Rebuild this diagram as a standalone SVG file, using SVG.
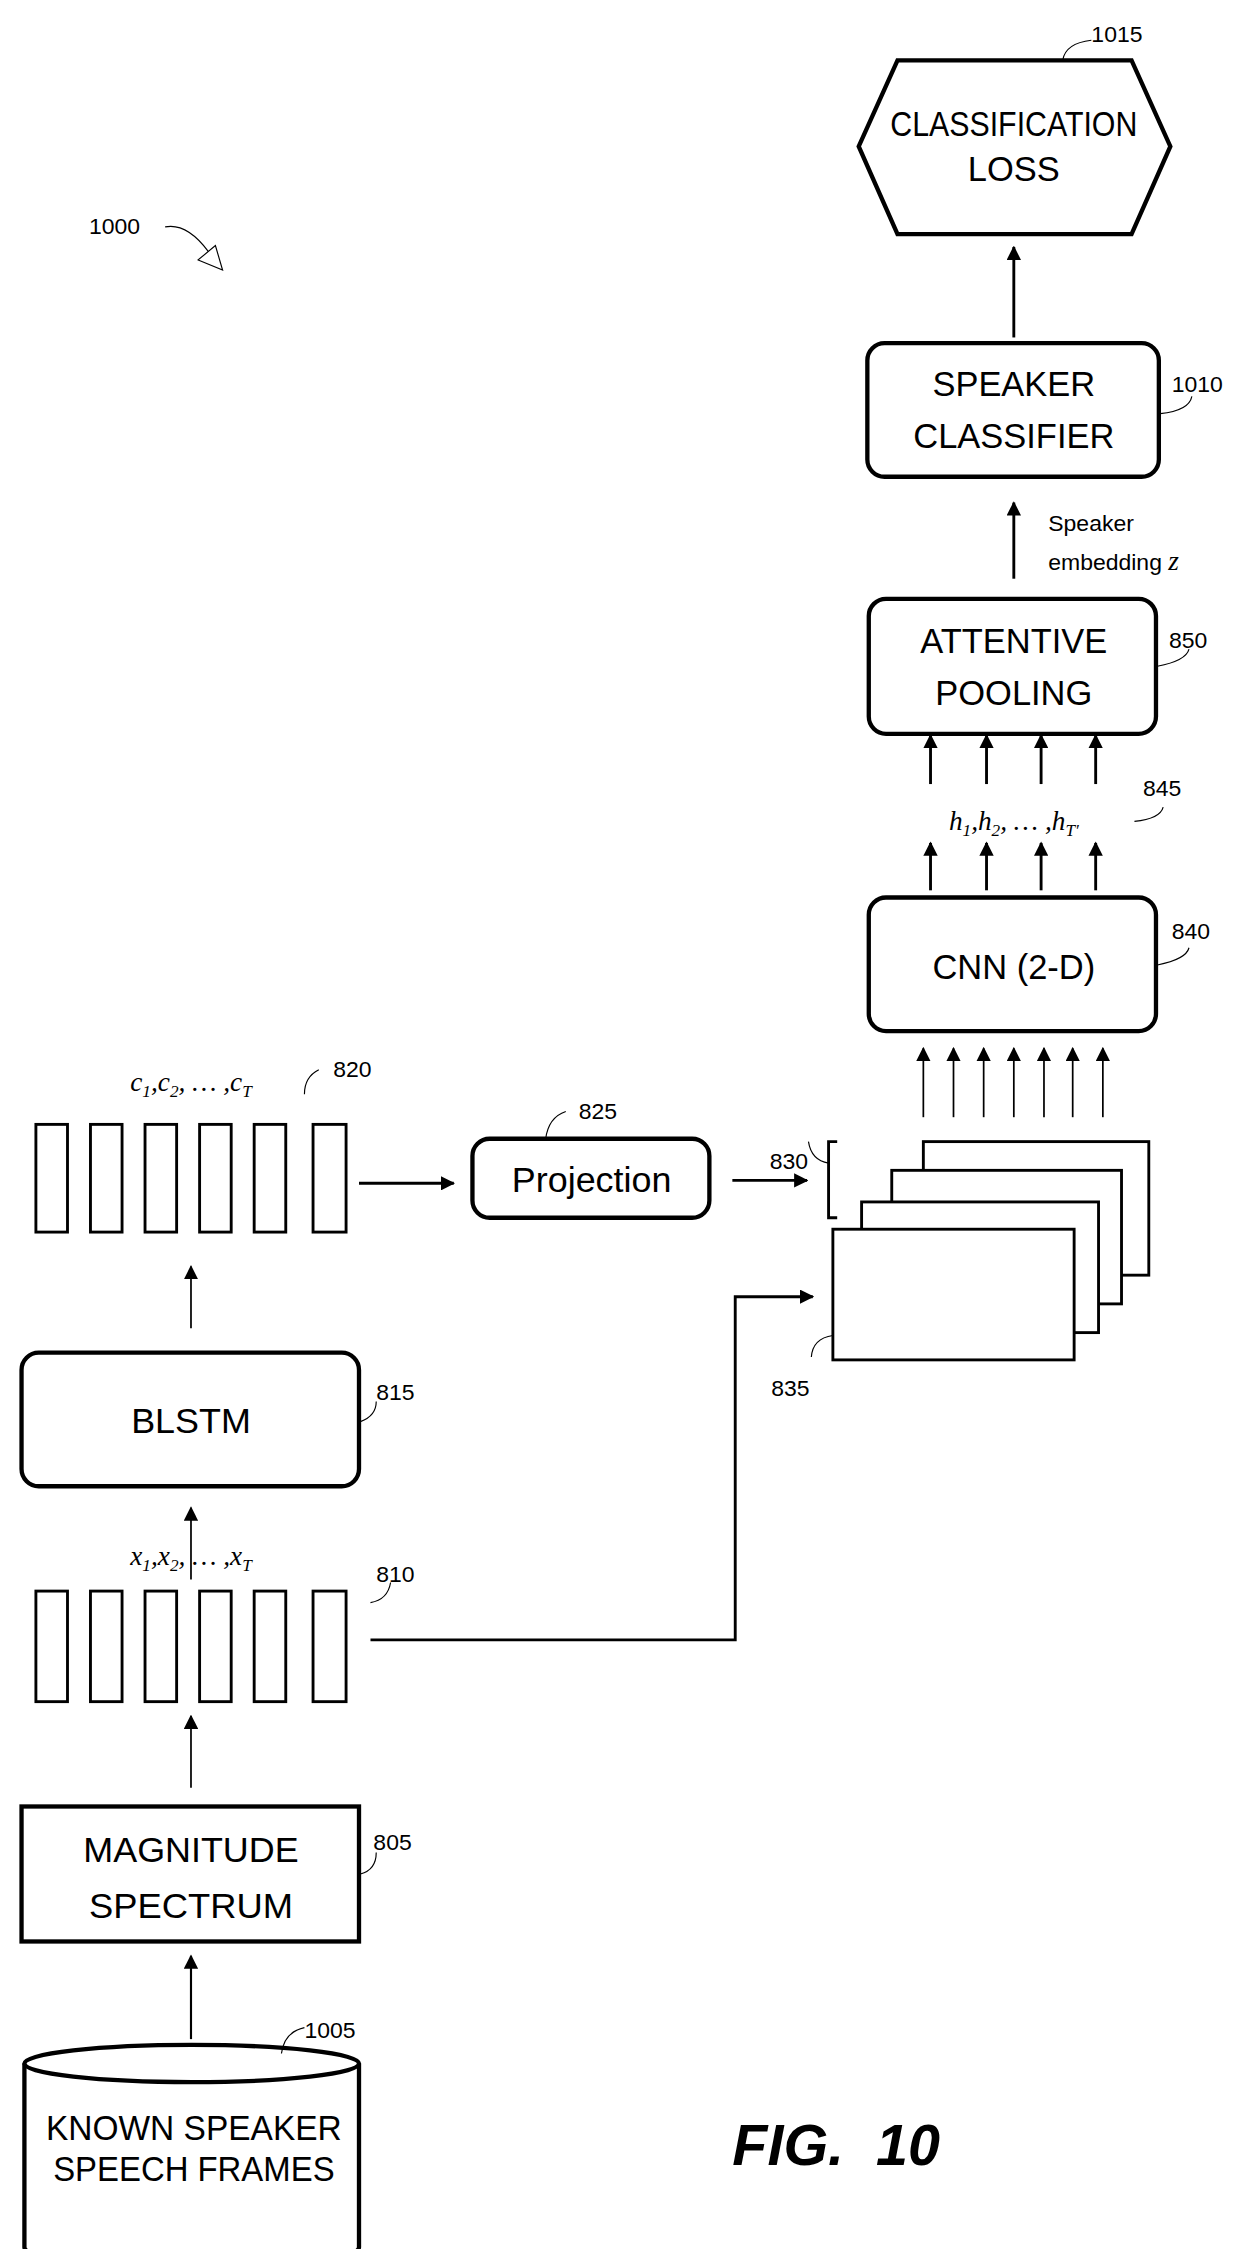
<svg xmlns="http://www.w3.org/2000/svg" width="1249" height="2249" viewBox="0 0 1249 2249">
<defs>
<marker id="ah" viewBox="0 0 10 10" refX="9" refY="5" markerWidth="10" markerHeight="10" markerUnits="userSpaceOnUse" orient="auto"><path d="M0,0 L10,5 L0,10 z" fill="#000"/></marker>
<style>
.box{fill:#fff;stroke:#000;stroke-width:3}
.bar{fill:#fff;stroke:#000;stroke-width:2}
.ln{fill:none;stroke:#000;stroke-width:2}
.thin{fill:none;stroke:#000;stroke-width:0.8}
.t{font-family:"Liberation Sans",Arial,sans-serif;font-size:24px;text-anchor:middle}
.n{font-family:"Liberation Sans",Arial,sans-serif;font-size:25px;text-anchor:middle}
.lab{font-family:"Liberation Sans",Arial,sans-serif;font-size:16px}
.m{font-family:"Liberation Serif","Times New Roman",serif;font-style:italic;font-size:19px;text-anchor:middle}
</style>
</defs>
<rect width="1249" height="2249" fill="#fff"/>
<g transform="scale(1.436)">
<g id="connectors">
<line class="ln" x1="706" y1="235" x2="706" y2="172" marker-end="url(#ah)"/>
<line class="ln" x1="706" y1="403" x2="706" y2="350" marker-end="url(#ah)"/>
<line class="ln" x1="648" y1="546" x2="648" y2="512" marker-end="url(#ah)"/>
<line class="ln" x1="687" y1="546" x2="687" y2="512" marker-end="url(#ah)"/>
<line class="ln" x1="725" y1="546" x2="725" y2="512" marker-end="url(#ah)"/>
<line class="ln" x1="763" y1="546" x2="763" y2="512" marker-end="url(#ah)"/>
<line class="ln" x1="648" y1="620" x2="648" y2="587" marker-end="url(#ah)"/>
<line class="ln" x1="687" y1="620" x2="687" y2="587" marker-end="url(#ah)"/>
<line class="ln" x1="725" y1="620" x2="725" y2="587" marker-end="url(#ah)"/>
<line class="ln" x1="763" y1="620" x2="763" y2="587" marker-end="url(#ah)"/>
<line class="ln" style="stroke-width:1.2" x1="643" y1="778" x2="643" y2="730" marker-end="url(#ah)"/>
<line class="ln" style="stroke-width:1.2" x1="664" y1="778" x2="664" y2="730" marker-end="url(#ah)"/>
<line class="ln" style="stroke-width:1.2" x1="685" y1="778" x2="685" y2="730" marker-end="url(#ah)"/>
<line class="ln" style="stroke-width:1.2" x1="706" y1="778" x2="706" y2="730" marker-end="url(#ah)"/>
<line class="ln" style="stroke-width:1.2" x1="727" y1="778" x2="727" y2="730" marker-end="url(#ah)"/>
<line class="ln" style="stroke-width:1.2" x1="747" y1="778" x2="747" y2="730" marker-end="url(#ah)"/>
<line class="ln" style="stroke-width:1.2" x1="768" y1="778" x2="768" y2="730" marker-end="url(#ah)"/>
<line class="ln" x1="510" y1="822" x2="562" y2="822" marker-end="url(#ah)"/>
<line class="ln" x1="250" y1="824" x2="316" y2="824" marker-end="url(#ah)"/>
<line class="ln" style="stroke-width:1.2" x1="133" y1="925" x2="133" y2="882" marker-end="url(#ah)"/>
<line class="ln" style="stroke-width:1.2" x1="133" y1="1100" x2="133" y2="1050" marker-end="url(#ah)"/>
<polyline class="ln" points="258,1142 512,1142 512,903 566,903" marker-end="url(#ah)"/>
<line class="ln" style="stroke-width:1.2" x1="133" y1="1245" x2="133" y2="1195" marker-end="url(#ah)"/>
<line class="ln" style="stroke-width:1.5" x1="133" y1="1420" x2="133" y2="1362" marker-end="url(#ah)"/>
</g>
<g id="n1015">
<polygon class="box" points="598,102 625,42 788,42 815,102 788,163 625,163"/>
<text class="t" x="706" y="95" font-size="21" textLength="172" lengthAdjust="spacingAndGlyphs">CLASSIFICATION</text>
<text class="t" x="706" y="126" font-size="21">LOSS</text>
<path class="thin" d="M740,42 Q742,30 760,28"/><text class="lab" x="760" y="29">1015</text>
</g>
<g id="n1010">
<rect class="box" x="604" y="239" width="203" height="93" rx="12"/>
<text class="t" x="706" y="276">SPEAKER</text>
<text class="t" x="706" y="312">CLASSIFIER</text>
<path class="thin" d="M808,288 Q828,286 830,276"/><text class="lab" x="816" y="273">1010</text>
</g>
<g id="embedding">
<text class="lab" x="730" y="370">Speaker</text>
<text class="lab" x="730" y="397">embedding <tspan font-family="Liberation Serif,serif" font-style="italic" font-size="19">z</tspan></text>
</g>
<g id="n850">
<rect class="box" x="605" y="417" width="200" height="94" rx="12"/>
<text class="t" x="706" y="455">ATTENTIVE</text>
<text class="t" x="706" y="491">POOLING</text>
<path class="thin" d="M806,464 Q826,460 828,452"/><text class="lab" x="814" y="451">850</text>
</g>
<g id="n845">
<text class="m" x="706" y="578">h<tspan font-size="12" dy="4">1</tspan><tspan dy="-4">,h</tspan><tspan font-size="12" dy="4">2</tspan><tspan dy="-4">, … ,h</tspan><tspan font-size="12" dy="4">T′</tspan></text>
<path class="thin" d="M790,572 Q808,570 810,562"/><text class="lab" x="796" y="554">845</text>
</g>
<g id="n840">
<rect class="box" x="605" y="625" width="200" height="93" rx="12"/>
<text class="t" x="706" y="682">CNN (2-D)</text>
<path class="thin" d="M806,672 Q826,668 828,660"/><text class="lab" x="816" y="654">840</text>
</g>
<g id="n830">
<rect class="bar" x="643" y="795" width="157" height="93"/>
<rect class="bar" x="621" y="815" width="160" height="93"/>
<rect class="bar" x="600" y="837" width="165" height="91"/>
<rect class="bar" x="580" y="856" width="168" height="91"/>
<polyline class="ln" points="583,795 577,795 577,848 583,848"/>
<path class="thin" d="M577,810 Q565,808 563,795"/><text class="lab" x="536" y="814">830</text>
<path class="thin" d="M580,930 Q566,932 565,945"/><text class="lab" x="537" y="972">835</text>
</g>
<g id="n825">
<rect class="box" x="329" y="793" width="165" height="55" rx="12"/>
<text class="n" x="412" y="830">Projection</text>
<path class="thin" d="M380,793 Q382,778 394,774"/><text class="lab" x="403" y="779">825</text>
</g>
<g id="n820">
<rect class="bar" x="25" y="783" width="22" height="75"/>
<rect class="bar" x="63" y="783" width="22" height="75"/>
<rect class="bar" x="101" y="783" width="22" height="75"/>
<rect class="bar" x="139" y="783" width="22" height="75"/>
<rect class="bar" x="177" y="783" width="22" height="75"/>
<rect class="bar" x="218" y="783" width="23" height="75"/>
<text class="m" x="133" y="760">c<tspan font-size="12" dy="4">1</tspan><tspan dy="-4">,c</tspan><tspan font-size="12" dy="4">2</tspan><tspan dy="-4">, … ,c</tspan><tspan font-size="12" dy="4">T</tspan></text>
<path class="thin" d="M212,762 Q212,750 222,745"/><text class="lab" x="232" y="750">820</text>
</g>
<g id="n815">
<rect class="box" x="15" y="942" width="235" height="93" rx="12"/>
<text class="n" x="133" y="998">BLSTM</text>
<path class="thin" d="M251,990 Q262,986 262,976"/><text class="lab" x="262" y="975">815</text>
</g>
<g id="n810">
<rect class="bar" x="25" y="1108" width="22" height="77"/>
<rect class="bar" x="63" y="1108" width="22" height="77"/>
<rect class="bar" x="101" y="1108" width="22" height="77"/>
<rect class="bar" x="139" y="1108" width="22" height="77"/>
<rect class="bar" x="177" y="1108" width="22" height="77"/>
<rect class="bar" x="218" y="1108" width="23" height="77"/>
<text class="m" x="133" y="1090">x<tspan font-size="12" dy="4">1</tspan><tspan dy="-4">,x</tspan><tspan font-size="12" dy="4">2</tspan><tspan dy="-4">, … ,x</tspan><tspan font-size="12" dy="4">T</tspan></text>
<path class="thin" d="M258,1116 Q270,1114 272,1102"/><text class="lab" x="262" y="1102">810</text>
</g>
<g id="n805">
<rect class="box" x="15" y="1258" width="235" height="94"/>
<text class="n" x="133" y="1297" textLength="150" lengthAdjust="spacingAndGlyphs">MAGNITUDE</text>
<text class="n" x="133" y="1336" textLength="142" lengthAdjust="spacingAndGlyphs">SPECTRUM</text>
<path class="thin" d="M251,1305 Q262,1302 262,1290"/><text class="lab" x="260" y="1288">805</text>
</g>
<g id="n1005">
<path class="box" d="M17,1437 L17,1565 A116.5,14 0 0 0 250,1565 L250,1437"/>
<ellipse class="box" cx="133.5" cy="1437" rx="116.5" ry="13"/>
<text class="n" x="135" y="1490" textLength="206" lengthAdjust="spacingAndGlyphs">KNOWN SPEAKER</text>
<text class="n" x="135" y="1519" textLength="196" lengthAdjust="spacingAndGlyphs">SPEECH FRAMES</text>
<path class="thin" d="M196,1430 Q198,1415 212,1412"/><text class="lab" x="212" y="1419">1005</text>
</g>
<g id="fig">
<text x="510" y="1508" font-family="Liberation Sans,Arial,sans-serif" font-style="italic" font-weight="bold" font-size="40" xml:space="preserve">FIG.  10</text>
<text class="lab" x="62" y="163" font-size="20">1000</text>
<path class="thin" d="M115,158 Q130,155 145,175"/>
<polygon class="thin" points="138,181 155,188 150,171"/>
</g>
</g>
</svg>
